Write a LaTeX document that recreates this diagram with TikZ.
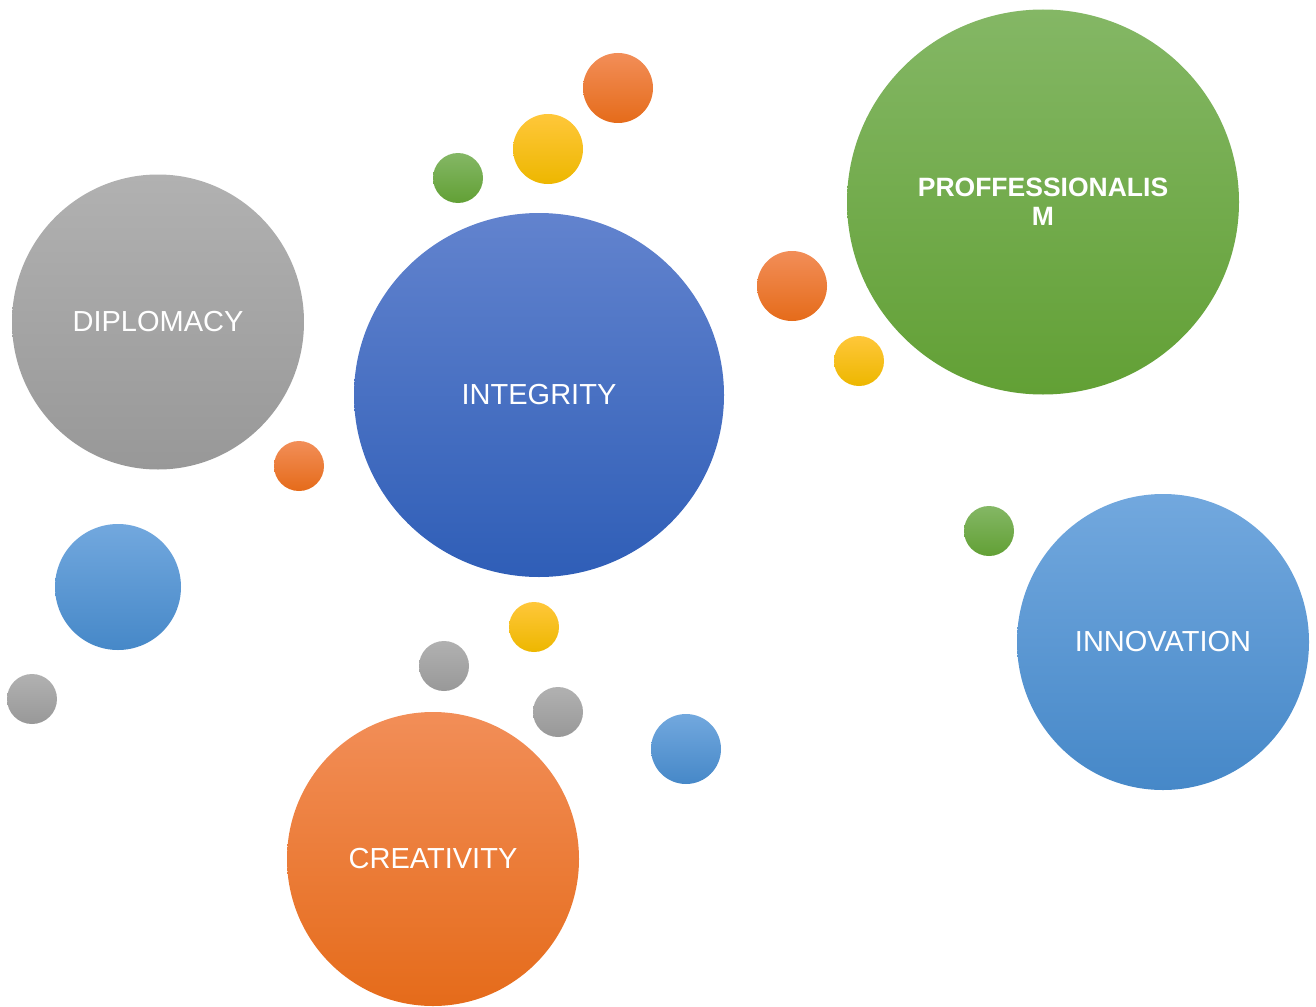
\documentclass[tikz,border=0pt]{standalone}
\usepackage{fontspec}
\setmainfont{Liberation Sans}
\usetikzlibrary{shapes.geometric}
\definecolor{grayA}{HTML}{B1B1B1}\definecolor{grayB}{HTML}{A5A5A5}\definecolor{grayC}{HTML}{989898}
\definecolor{blueA}{HTML}{6283CE}\definecolor{blueB}{HTML}{4472C4}\definecolor{blueC}{HTML}{2F5EB7}
\definecolor{skyA}{HTML}{72A8DE}\definecolor{skyB}{HTML}{5B9BD5}\definecolor{skyC}{HTML}{4688C8}
\definecolor{greenA}{HTML}{84B765}\definecolor{greenB}{HTML}{72AE48}\definecolor{greenC}{HTML}{62A035}
\definecolor{orangeA}{HTML}{F28E58}\definecolor{orangeB}{HTML}{F47B2A}\definecolor{orangeC}{HTML}{E56B1A}
\definecolor{yellowA}{HTML}{FFC73A}\definecolor{yellowB}{HTML}{FFC400}\definecolor{yellowC}{HTML}{EDB700}
\begin{document}
\begin{tikzpicture}[x=1pt, y=-1pt,
  bubble/.style={ellipse, inner sep=0pt, text=white, font=\fontsize{29pt}{34pt}\selectfont},
  dot/.style={circle, inner sep=0pt, minimum size=#1},
  grayball/.style={top color=grayA, middle color=grayB, bottom color=grayC},
  blueball/.style={top color=blueA, middle color=blueB, bottom color=blueC},
  skyball/.style={top color=skyA, middle color=skyB, bottom color=skyC},
  greenball/.style={top color=greenA, middle color=greenB, bottom color=greenC},
  orangeball/.style={top color=orangeA, middle color=orangeB, bottom color=orangeC},
  yellowball/.style={top color=yellowA, middle color=yellowB, bottom color=yellowC}]
\useasboundingbox (0,0) rectangle (1316,1006);

\node (diplomacy) at (158,322) [bubble, grayball, minimum width=292pt, minimum height=295pt] {DIPLOMACY};
\node (integrity) at (539,395) [bubble, blueball, minimum width=370pt, minimum height=364pt] {INTEGRITY};
\node (prof) at (1043,202) [bubble, greenball, minimum width=392pt, minimum height=385pt, align=center,
  font=\bfseries\fontsize{26.5pt}{29pt}\selectfont] {PROFFESSIONALIS\\M};
\node (innovation) at (1163,642) [bubble, skyball, minimum width=292pt, minimum height=296pt] {INNOVATION};
\node (creativity) at (433,859) [bubble, orangeball, minimum width=292pt, minimum height=294pt] {CREATIVITY};

\node (o1) at (618,88) [dot=70pt, orangeball] {};
\node (y1) at (548,149) [dot=70pt, yellowball] {};
\node (g1) at (458,178) [dot=50pt, greenball] {};
\node (o2) at (792,286) [dot=70pt, orangeball] {};
\node (y2) at (859,361) [dot=50pt, yellowball] {};
\node (o3) at (299,466) [dot=50pt, orangeball] {};
\node (b1) at (118,587) [dot=126pt, skyball] {};
\node (s1) at (32,699) [dot=50pt, grayball] {};
\node (y3) at (534,627) [dot=50pt, yellowball] {};
\node (s2) at (444,666) [dot=50pt, grayball] {};
\node (s3) at (558,712) [dot=50pt, grayball] {};
\node (b2) at (686,749) [dot=70pt, skyball] {};
\node (g2) at (989,531) [dot=50pt, greenball] {};
\end{tikzpicture}
\end{document}
